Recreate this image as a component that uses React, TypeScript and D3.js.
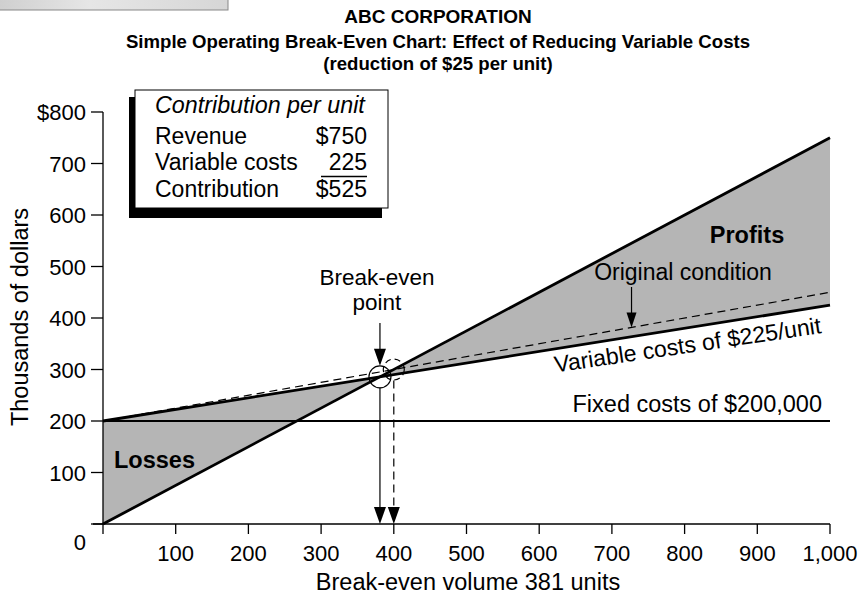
import React from "react";
import * as d3 from "d3";

const xTicks = [100, 200, 300, 400, 500, 600, 700, 800, 900, 1000];
const xTickLabels = ["100", "200", "300", "400", "500", "600", "700", "800", "900", "1,000"];
const yTicks = [0, 100, 200, 300, 400, 500, 600, 700, 800];
const yTickLabels = ["0", "100", "200", "300", "400", "500", "600", "700", "$800"];

const units = [0, 1000];
const revenue = [0, 750];
const fixedCosts = [200, 200];
const totalCosts = [200, 425];
const originalCosts = [200, 450];

const legendRows = [
  { label: "Revenue", value: "$750" },
  { label: "Variable costs", value: "225" },
  { label: "Contribution", value: "$525" },
];

const FONT = "'Liberation Sans', Arial, Helvetica, sans-serif";

function ArrowDown({ x, y, w = 12, h = 17 }: { x: number; y: number; w?: number; h?: number }) {
  return <path d={`M${x - w / 2},${y - h} L${x + w / 2},${y - h} L${x},${y} Z`} fill="black" />;
}

export default function App() {
  const x = d3.scaleLinear().domain([0, 1000]).range([103, 830]);
  const y = d3.scaleLinear().domain([0, 800]).range([524, 112]);

  const line = d3
    .line<[number, number]>()
    .x((d) => x(d[0]))
    .y((d) => y(d[1]));

  const pts = (vals: number[]) => units.map((u, i) => [u, vals[i]] as [number, number]);

  const slope = (v: number[]) => (v[1] - v[0]) / (units[1] - units[0]);
  const beNew = (totalCosts[0] - revenue[0]) / (slope(revenue) - slope(totalCosts));
  const beOld = (originalCosts[0] - revenue[0]) / (slope(revenue) - slope(originalCosts));
  const revAt = (u: number) => revenue[0] + slope(revenue) * u;

  const lossPoly: [number, number][] = [
    [0, revenue[0]],
    [beNew, revAt(beNew)],
    [0, totalCosts[0]],
  ];
  const profitPoly: [number, number][] = [
    [beNew, revAt(beNew)],
    [1000, revenue[1]],
    [1000, totalCosts[1]],
  ];
  const poly = (p: [number, number][]) => line(p) + "Z";

  const bx = x(beNew);
  const by = y(revAt(beNew));
  const ox = x(beOld);
  const oy = y(revAt(beOld));
  const r = 11;

  const ang =
    (Math.atan2(y(totalCosts[1]) - y(totalCosts[0]), x(1000) - x(0)) * 180) / Math.PI;

  const origX = 727;
  const origY = y(originalCosts[0] + slope(originalCosts) * origX);

  const rowY = [144, 170, 197];

  return (
    <svg width={868} height={599} style={{ display: "block", position: "absolute", left: 0, top: 0 }} fontFamily={FONT}>
      <defs>
        <linearGradient id="hdr" x1="0" x2="1" y1="0" y2="0">
          <stop offset="0" stopColor="#cfcfcf" />
          <stop offset="0.4" stopColor="#e6e6e6" />
          <stop offset="1" stopColor="#d6d6d6" />
        </linearGradient>
      </defs>
      <rect x={0} y={0} width={868} height={599} fill="white" />
      <rect x={-1} y={-1} width={229} height={11} fill="url(#hdr)" stroke="#888" strokeWidth={1} />

      {/* titles */}
      <text x={438} y={23} textAnchor="middle" fontWeight="bold" fontSize={19}>ABC CORPORATION</text>
      <text x={438} y={48} textAnchor="middle" fontWeight="bold" fontSize={18.6}>
        Simple Operating Break-Even Chart: Effect of Reducing Variable Costs
      </text>
      <text x={438} y={70} textAnchor="middle" fontWeight="bold" fontSize={18.6}>(reduction of $25 per unit)</text>

      {/* shaded areas */}
      <path d={poly(lossPoly)} fill="#b5b5b5" stroke="none" />
      <path d={poly(profitPoly)} fill="#b5b5b5" stroke="none" />

      {/* axes */}
      <line x1={x(0)} x2={x(0)} y1={y(800)} y2={y(0) + 10} stroke="black" strokeWidth={1.3} />
      <line x1={x(0) - 10} x2={x(1000)} y1={y(0)} y2={y(0)} stroke="black" strokeWidth={1.3} />
      {yTicks.map((t, i) => (
        <g key={"y" + t}>
          <line x1={x(0) - 12} x2={x(0)} y1={y(t)} y2={y(t)} stroke="black" strokeWidth={1.3} />
          <text x={86} y={t === 0 ? y(t) + 26 : y(t) + 8} textAnchor="end" fontSize={22}>
            {yTickLabels[i]}
          </text>
        </g>
      ))}
      {xTicks.map((t, i) => (
        <g key={"x" + t}>
          <line x1={x(t)} x2={x(t)} y1={y(0)} y2={y(0) + 10} stroke="black" strokeWidth={1.3} />
          <text x={x(t)} y={561} textAnchor="middle" fontSize={22}>
            {xTickLabels[i]}
          </text>
        </g>
      ))}
      <text x={468} y={590} textAnchor="middle" fontSize={23.5}>Break-even volume 381 units</text>
      <text transform="translate(28,317) rotate(-90)" textAnchor="middle" fontSize={23.5}>Thousands of dollars</text>

      {/* lines */}
      <path d={line(pts(fixedCosts))!} stroke="black" strokeWidth={2.2} fill="none" />
      <path d={line(pts(originalCosts))!} stroke="black" strokeWidth={1.2} strokeDasharray="8,5" fill="none" />
      <path d={line(pts(totalCosts))!} stroke="black" strokeWidth={2.8} fill="none" />
      <path d={line(pts(revenue))!} stroke="black" strokeWidth={2.8} fill="none" />

      {/* break-even markers */}
      <circle cx={bx} cy={by} r={r} fill="none" stroke="black" strokeWidth={1.2} />
      <circle cx={ox} cy={oy} r={r - 0.5} fill="none" stroke="black" strokeWidth={1.2} strokeDasharray="6,4" />
      <line x1={bx} x2={bx} y1={323} y2={by - r - 10} stroke="black" strokeWidth={1.2} />
      <ArrowDown x={bx} y={by - r} />
      <line x1={bx} x2={bx} y1={by + r} y2={y(0) - 10} stroke="black" strokeWidth={1.2} />
      <ArrowDown x={bx} y={y(0)} />
      <line x1={ox} x2={ox} y1={oy + r} y2={y(0) - 10} stroke="black" strokeWidth={1.2} strokeDasharray="8,5" />
      <ArrowDown x={ox} y={y(0)} />

      <text x={bx - 3} y={285} textAnchor="middle" fontSize={22.5}>Break-even</text>
      <text x={bx - 3} y={310} textAnchor="middle" fontSize={22.5}>point</text>

      {/* annotations */}
      <text x={747} y={243} textAnchor="middle" fontSize={23.5} fontWeight="bold">Profits</text>
      <text x={683} y={280} textAnchor="middle" fontSize={23}>Original condition</text>
      <line x1={x(origX)} x2={x(origX)} y1={287} y2={origY - 10} stroke="black" strokeWidth={1.2} />
      <ArrowDown x={x(origX)} y={origY} w={10} h={15} />
      <text transform={`translate(822,333) rotate(${ang + 0.6})`} textAnchor="end" fontSize={23}>
        Variable costs of $225/unit
      </text>
      <text x={822} y={412} textAnchor="end" fontSize={23.5}>Fixed costs of $200,000</text>
      <text x={114} y={468} fontSize={23.5} fontWeight="bold">Losses</text>

      {/* legend box */}
      <rect x={129} y={97} width={253} height={121} fill="black" />
      <rect x={135} y={90} width={253} height={118} fill="white" stroke="black" strokeWidth={1} />
      <text x={155} y={113} fontSize={23.3} fontStyle="italic">Contribution per unit</text>
      {legendRows.map((row, i) => (
        <g key={row.label}>
          <text x={155} y={rowY[i]} fontSize={23}>{row.label}</text>
          <text x={367} y={rowY[i]} fontSize={23} textAnchor="end">{row.value}</text>
        </g>
      ))}
      <line x1={321} x2={367} y1={176.5} y2={176.5} stroke="black" strokeWidth={1.3} />
    </svg>
  );
}
